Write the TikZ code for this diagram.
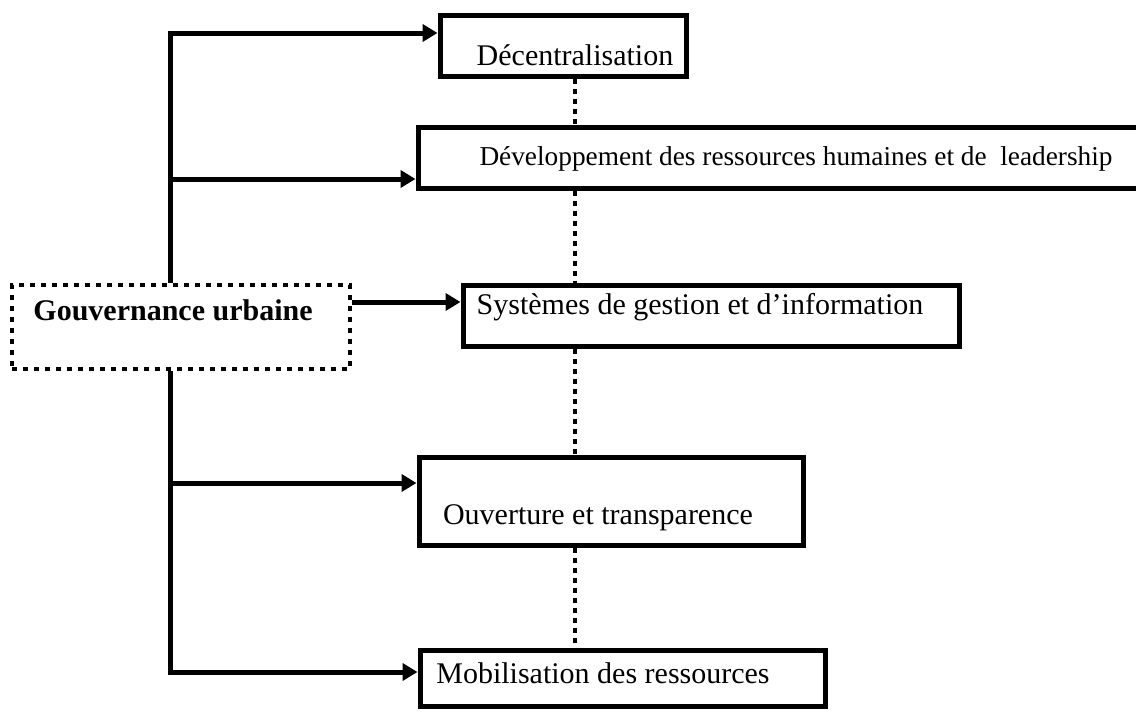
\documentclass[tikz,border=0pt]{standalone}
\usepackage{fontspec}
\setmainfont{Liberation Serif}
\usetikzlibrary{arrows.meta}
\begin{document}
\begin{tikzpicture}[x=1pt,y=-1pt,
  box/.style={draw, line width=5pt, rectangle, inner sep=0pt},
  govbox/.style={draw, line width=4.5pt, dash pattern=on 5pt off 6pt, rectangle, inner sep=0pt},
  txt/.style={font=\fontsize{30}{36}\selectfont, inner sep=0pt},
  smalltxt/.style={font=\fontsize{27.3}{33}\selectfont, inner sep=0pt},
  arr/.style={line width=5pt, -{Triangle[length=15pt,width=17pt]}},
  dotline/.style={line width=4pt, dash pattern=on 5pt off 5pt}]
\useasboundingbox (0,0) rectangle (1136,712);
\clip (0,0) rectangle (1136,712);
% boxes
\node[box, minimum width=246pt, minimum height=61pt] (b1) at (563,45.5) {};
\node[box, minimum width=727pt, minimum height=61pt] (b2) at (781.5,157.5) {};
\node[box, minimum width=496pt, minimum height=61pt] (b3) at (711,315.5) {};
\node[box, minimum width=384pt, minimum height=88pt] (b4) at (611,501) {};
\node[box, minimum width=405pt, minimum height=56pt] (b5) at (622.5,678) {};
\node[govbox, minimum width=338pt, minimum height=84pt] (gov) at (181,327) {};
% texts
\node[txt] (t1) at (575,55) {Décentralisation};
\node[smalltxt] (t2) at (796,159) {Développement des ressources humaines et de~ leadership};
\node[txt] (t3) at (700,307) {Systèmes de gestion et d’information};
\node[txt] (t4) at (598,518) {Ouverture et transparence};
\node[txt] (t5) at (603,673) {Mobilisation des ressources};
\node[txt, font=\fontsize{30}{36}\selectfont\bfseries] (tg) at (173,310) {Gouvernance urbaine};
% helper coordinates
\coordinate (tr) at (170,0);
\coordinate (y1) at (0,33);
\coordinate (y2) at (0,179);
\coordinate (y3) at (0,302);
\coordinate (y4) at (0,483);
\coordinate (y5) at (0,672);
\coordinate (dx) at (575,0);
% connectors
\draw[arr] (gov.north -| tr) -- (tr |- y1) -- (b1.west |- y1);
\draw[arr] (tr |- y2) -- (b2.west |- y2);
\draw[arr] (gov.east |- y3) -- (b3.west |- y3);
\draw[arr] (gov.south -| tr) -- (tr |- y5) -- (b5.west |- y5);
\draw[arr] (tr |- y4) -- (b4.west |- y4);
\draw[dotline] (b1.south -| dx) -- (b2.north -| dx);
\draw[dotline] (b2.south -| dx) -- (b3.north -| dx);
\draw[dotline] (b3.south -| dx) -- (b4.north -| dx);
\draw[dotline] (b4.south -| dx) -- (b5.north -| dx);
\end{tikzpicture}
\end{document}
